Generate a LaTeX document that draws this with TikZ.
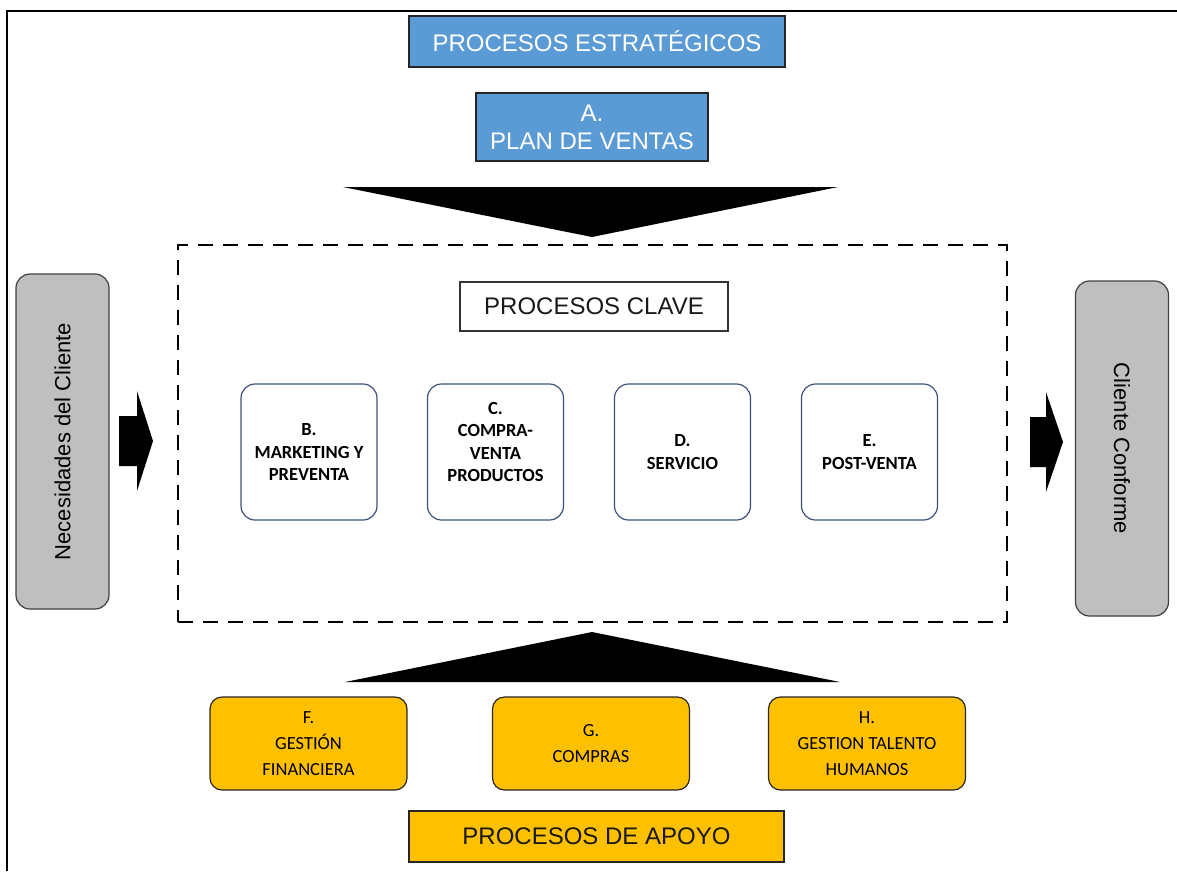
\documentclass[tikz,border=0pt]{standalone}
\usepackage{fontspec}
\setmainfont{Liberation Sans}
\newfontfamily\calib{Carlito}
\begin{document}
\definecolor{stratblue}{HTML}{5B9BD5}
\definecolor{supportgold}{HTML}{FFC000}
\definecolor{clientgray}{HTML}{BFBFBF}
\definecolor{keyedge}{HTML}{3E5279}
\begin{tikzpicture}[x=1pt,y=-1pt,
  strat/.style={draw=black!85, line width=1.3, fill=stratblue, text=white,
    font=\fontsize{24}{28}\selectfont, align=center, inner sep=0},
  titlebox/.style={draw=black!80, line width=1.3, fill=white, text=black!90,
    font=\fontsize{24}{28}\selectfont, inner sep=0},
  keyproc/.style={draw=keyedge, line width=1.2, fill=white, rounded corners=14,
    minimum width=136, minimum height=136, align=center, inner sep=0,
    font=\calib\bfseries\fontsize{18.5}{22.5}\selectfont},
  support/.style={draw=black!85, line width=1.2, fill=supportgold, rounded corners=12,
    minimum width=197, minimum height=93, align=center, inner sep=0,
    font=\calib\fontsize{18.5}{26}\selectfont},
  client/.style={draw=black!75, line width=1.2, fill=clientgray, rounded corners=14,
    minimum width=335, minimum height=93, inner sep=0, text=black,
    font=\fontsize{22}{26}\selectfont},
  blockarrow/.style={fill=black},
  wedge/.style={fill=black}
]
\useasboundingbox (0,0) rectangle (1177,871);

% page frame (top and left edges)
\draw[line width=2.2] (7,871) -- (7,11) -- (1177,11);

% strategic processes
\node[strat, minimum width=376, minimum height=51] (estr) at (597,41.5) {PROCESOS ESTRATÉGICOS};
\node[strat, minimum width=232, minimum height=68] (plan) at (592,127) {A.\\PLAN DE VENTAS};

% wedge pointing down into the key processes
\fill[wedge] (343,187) -- (838,187) -- (592,237) -- cycle;

% key processes
\node[draw, line width=2.8, dash pattern=on 15 off 10, minimum width=829, minimum height=377, inner sep=0] (core) at (592.5,433.5) {};
\node[titlebox, minimum width=268, minimum height=49] (clave) at (594,306.5) {PROCESOS CLAVE};

\node[keyproc] (mkt) at (309,452) {B.\\MARKETING Y\\PREVENTA};
\node[keyproc] (cv) at (495.5,452) {C.\\COMPRA-\\VENTA\\PRODUCTOS\\[-2pt]\mbox{}};
\node[keyproc] (serv) at (682.5,452) {D.\\SERVICIO};
\node[keyproc] (post) at (869.5,452) {E.\\POST-VENTA};

% customer side
\node[client, rotate=90] (need) at (62.5,441.5) {Necesidades del Cliente};
\node[client, rotate=-90] (ok) at (1122,448.5) {Cliente Conforme};

\fill[blockarrow] (119,416) -- (137,416) -- (137,391) -- (153,441) -- (137,491) -- (137,466) -- (119,466) -- cycle;
\fill[blockarrow] (1030,417) -- (1046,417) -- (1046,392) -- (1063,442) -- (1046,492) -- (1046,467) -- (1030,467) -- cycle;

% wedge pointing up from the support processes
\fill[wedge] (345,682) -- (840,682) -- (592,632) -- cycle;

% support processes
\node[support] (fin) at (308.5,743.5) {F.\\GESTIÓN\\FINANCIERA};
\node[support] (comp) at (591,743.5) {G.\\COMPRAS};
\node[support] (tal) at (867,743.5) {H.\\GESTION TALENTO\\HUMANOS};

\node[strat, fill=supportgold, text=black!90, minimum width=375, minimum height=51] (apoyo) at (596.5,836.5) {PROCESOS DE APOYO};
\end{tikzpicture}
\end{document}
